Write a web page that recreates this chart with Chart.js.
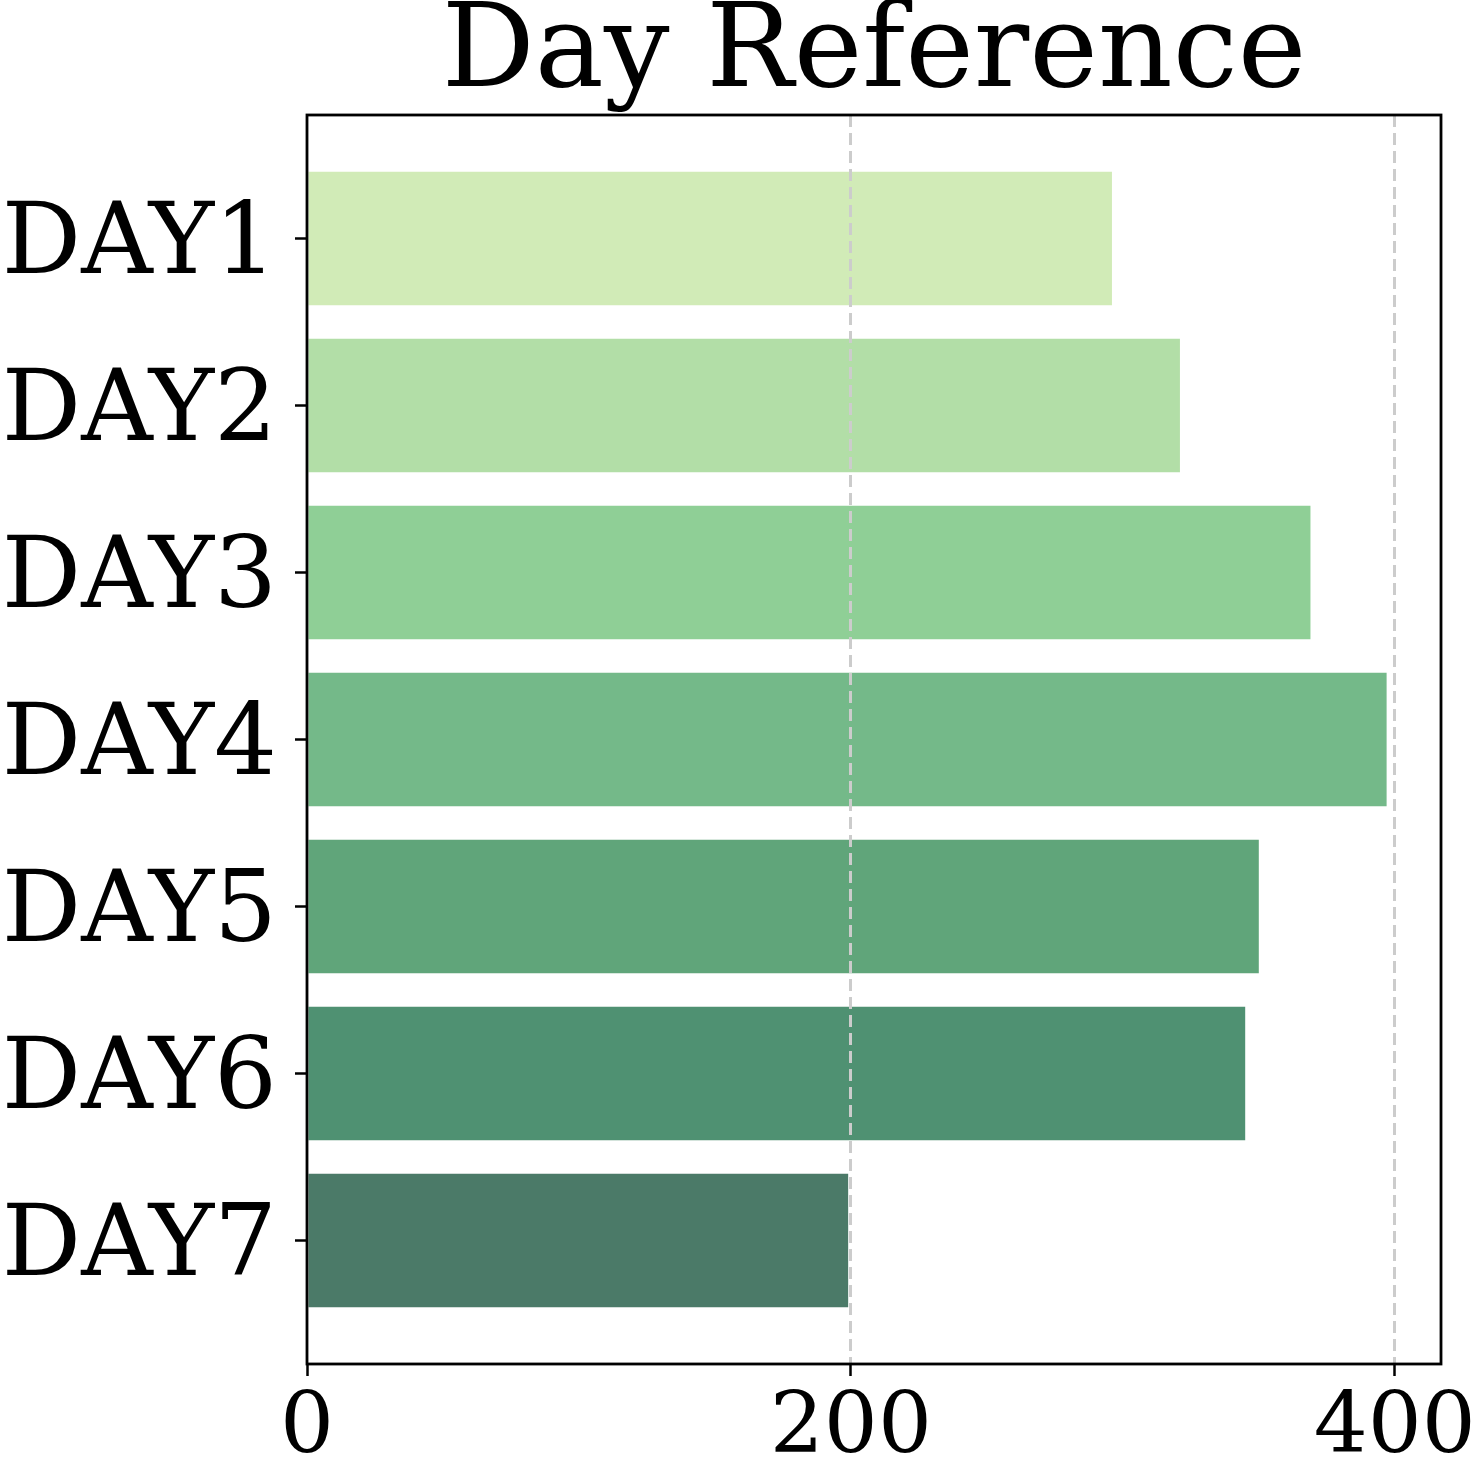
<!DOCTYPE html>
<html>

<head>
    <title>Day Reference</title>
    <script src="https://cdn.jsdelivr.net/npm/chart.js"></script>
    <style>
        body { margin: 0; background: #ffffff; }
        #grafico { display: block; }
    </style>
</head>

<body>
    <canvas id="grafico" width="1475" height="1475"></canvas>

    <script>
        // dados
        var dias = ["DAY1", "DAY2", "DAY3", "DAY4", "DAY5", "DAY6", "DAY7"];
        var valores = [296, 321, 369, 397, 350, 345, 199];
        var cores = ["#d1ebb7", "#b2dea7", "#8fcf96", "#74b989", "#60a57a", "#4f9172", "#4b7a68"];
        var ticksX = [0, 200, 400];

        var fonte = "DejaVu Serif";

        // moldura preta em volta da area do grafico
        var moldura = {
            id: "moldura",
            afterDraw: function (chart) {
                var a = chart.chartArea;
                var ctx = chart.ctx;
                ctx.save();
                ctx.strokeStyle = "#000000";
                ctx.lineWidth = 2.8;
                ctx.strokeRect(a.left, a.top, a.right - a.left, a.bottom - a.top);
                ctx.restore();
            }
        };

        var ctx = document.getElementById("grafico").getContext("2d");

        var grafico = new Chart(ctx, {
            type: "bar",
            data: {
                datasets: [{
                    data: dias.map(function (d, i) { return { x: valores[i], y: i }; }),
                    backgroundColor: cores,
                    borderWidth: 0,
                    categoryPercentage: 1,
                    barPercentage: 0.8
                }]
            },
            options: {
                indexAxis: "y",
                responsive: false,
                animation: false,
                layout: { padding: { left: 0, right: 34, top: 0, bottom: 0 } },
                plugins: {
                    legend: { display: false },
                    tooltip: { enabled: false },
                    title: {
                        display: true,
                        text: "Day Reference",
                        fullSize: false,
                        color: "#000000",
                        font: { family: fonte, size: 116, weight: "normal", lineHeight: 0.9 },
                        padding: { top: 4, bottom: 6.6 }
                    }
                },
                scales: {
                    x: {
                        type: "linear",
                        min: 0,
                        max: 417,
                        afterBuildTicks: function (scale) {
                            scale.ticks = ticksX.map(function (v) { return { value: v }; });
                        },
                        afterFit: function (scale) {
                            scale.height = 1475 - 1364;
                            scale.paddingLeft = 0;
                            scale.paddingRight = 0;
                        },
                        grid: {
                            z: 1,
                            color: function (c) { return c.tick && c.tick.value === 0 ? "rgba(0,0,0,0)" : "#cccccc"; },
                            lineWidth: 3,
                            drawTicks: true,
                            tickLength: 12,
                            tickColor: "#000000",
                            tickWidth: 2.5,
                            tickBorderDash: []
                        },
                        border: { display: false, dash: [12, 6] },
                        ticks: {
                            color: "#000000",
                            padding: 3,
                            maxRotation: 0,
                            font: { family: fonte, size: 85 }
                        }
                    },
                    y: {
                        type: "linear",
                        reverse: true,
                        offset: false,
                        min: -0.74,
                        max: 6.74,
                        afterBuildTicks: function (scale) {
                            scale.ticks = dias.map(function (d, i) { return { value: i }; });
                        },
                        afterFit: function (scale) { scale.width = 307; },
                        grid: {
                            offset: false,
                            drawOnChartArea: false,
                            drawTicks: true,
                            tickLength: 12,
                            tickColor: "#000000",
                            tickWidth: 2.5
                        },
                        border: { display: false },
                        ticks: {
                            color: "#000000",
                            padding: 18,
                            labelOffset: 9,
                            font: { family: fonte, size: 99 },
                            callback: function (v) { return dias[v]; }
                        }
                    }
                }
            },
            plugins: [moldura]
        });
    </script>
</body>

</html>
